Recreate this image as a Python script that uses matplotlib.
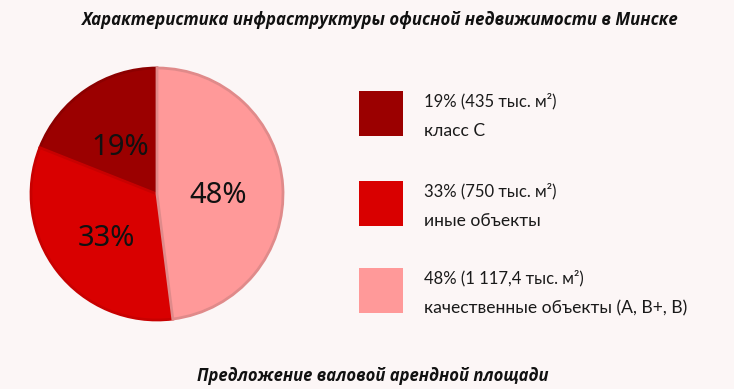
import matplotlib
matplotlib.use("Agg")
import matplotlib.pyplot as plt
from matplotlib.patches import Rectangle

# Data
categories = ["класс С", "иные объекты", "качественные объекты (A, B+, B)"]
shares = [19, 33, 48]
areas = ["435", "750", "1 117,4"]
colors = ["#9b0000", "#d90000", "#ff9999"]
edge_colors = ["#8c0000", "#c80000", "#e08a8a"]

title = "Характеристика инфраструктуры офисной недвижимости в Минске"
subtitle = "Предложение валовой арендной площади"

W, H = 734, 389
fig = plt.figure(figsize=(W / 100, H / 100), dpi=100)
bg = "#fcf6f6"
fig.patch.set_facecolor(bg)

# Pie axes
cx, cy, r = 157, 194, 126
lim = 1.05
half = r * lim
ax = fig.add_axes([(cx - half) / W, (H - cy - half) / H, 2 * half / W, 2 * half / H])
wedges, texts, autotexts = ax.pie(
    shares, colors=colors, startangle=90, counterclock=True,
    autopct=lambda p: f"{p:.0f}%", pctdistance=0.5,
    wedgeprops=dict(linewidth=2.0), textprops=dict(fontsize=21, family="Noto Sans", color="#111111"))
for w, ec in zip(wedges, edge_colors):
    w.set_edgecolor(ec)
for t in autotexts:
    x, y = t.get_position()
    t.set_position((x - 0.01, y - 0.045))
ax.set_xlim(-lim, lim)
ax.set_ylim(-lim, lim)
ax.set_aspect("equal")

# Overlay axes in pixel coordinates for legend & titles
ov = fig.add_axes([0, 0, 1, 1])
ov.set_xlim(0, W)
ov.set_ylim(H, 0)
ov.axis("off")
ov.patch.set_alpha(0)

ov.text(380, 20, title, ha="center", va="center", fontsize=12.1, fontweight="bold",
        fontstyle="italic", family="Open Sans", color="#111111")
ov.text(373, 376, subtitle, ha="center", va="center", fontsize=12, fontweight="bold",
        fontstyle="italic", family="Open Sans", color="#111111")

tops = [91, 181, 268]
for top, c, s, a, cat in zip(tops, colors, shares, areas, categories):
    ov.add_patch(Rectangle((359, top), 44, 45, facecolor=c, edgecolor="none"))
    ov.text(424, top + 10, f"{s}% ({a} тыс. м²)", ha="left", va="center", fontsize=12,
            family="Lato", color="#1a1a1a")
    ov.text(424, top + 40, cat, ha="left", va="center", fontsize=12.6,
            family="Lato", color="#1a1a1a")

fig.savefig("out.png", dpi=100, facecolor=bg)
